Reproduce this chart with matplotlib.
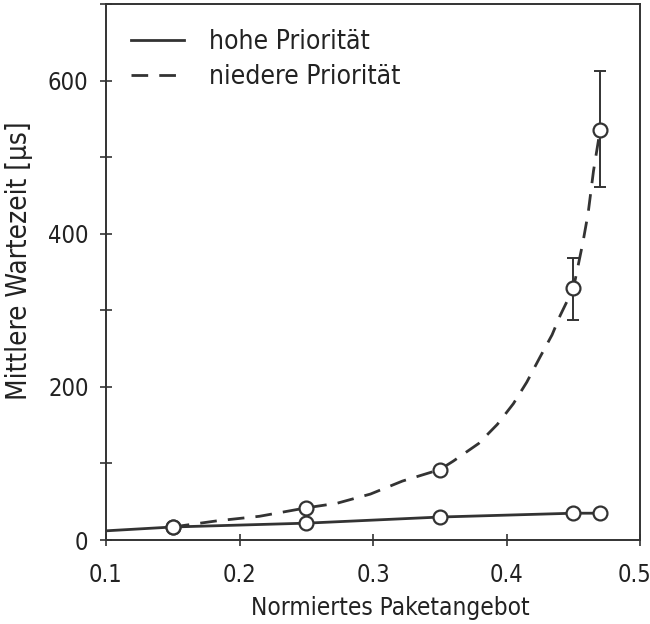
import matplotlib.pyplot as plt
import matplotlib.transforms as mtransforms
from matplotlib.ticker import MultipleLocator

plt.rcParams['font.family'] = ['DejaVu Sans']
plt.rcParams['font.stretch'] = 'condensed'

# Messpunkte (Normiertes Paketangebot)
x_pts = [0.15, 0.25, 0.35, 0.45, 0.47]
hohe = [17, 22, 30, 35, 35]
niedere = [17, 42, 92, 329, 536]

# Fehlerbalken niedere Prioritaet (untere / obere Grenze)
err_x = [0.45, 0.47]
err_mid = [329, 536]
err_lo = [287, 461]
err_hi = [368, 612]

# Verlauf der Kurven
hohe_x = [0.1, 0.15, 0.25, 0.35, 0.45, 0.47]
hohe_y = [12, 17, 22, 30, 35, 35]
nied_x = [0.15, 0.183, 0.215, 0.25, 0.273, 0.298, 0.322, 0.35, 0.36, 0.379, 0.393,
          0.405, 0.415, 0.425, 0.434, 0.44, 0.45, 0.457, 0.461, 0.465, 0.47]
nied_y = [17, 25, 31, 42, 48, 60, 77, 92, 103, 126, 151,
          178, 206, 239, 268, 293, 329, 388, 427, 482, 536]

col = '#333333'
fig = plt.figure(figsize=(6.5, 6.24), dpi=100)
ax = fig.add_axes([0.163, 0.1346, 0.822, 0.859])

ax.plot(hohe_x, hohe_y, '-', color=col, lw=2.0, label='hohe Priorität')
ax.plot(nied_x, nied_y, '--', color=col, lw=2.0, dashes=(6, 4), label='niedere Priorität')
ax.errorbar(err_x, err_mid,
            yerr=[[m - l for m, l in zip(err_mid, err_lo)], [h - m for h, m in zip(err_hi, err_mid)]],
            fmt='none', ecolor=col, elinewidth=1.4, capsize=4, capthick=1.4)
ax.plot(x_pts, hohe, 'o', ms=10, mfc='white', mec=col, mew=1.6)
ax.plot(x_pts, niedere, 'o', ms=10, mfc='white', mec=col, mew=1.6)

ax.set_xlim(0.1, 0.5)
ax.set_ylim(0, 700)
ax.set_xticks([0.1, 0.2, 0.3, 0.4, 0.5])
ax.set_xticklabels(['0.1', '0.2', '0.3', '0.4', '0.5'])
ax.yaxis.set_major_locator(MultipleLocator(200))
ax.yaxis.set_minor_locator(MultipleLocator(100))
ax.tick_params(which='both', direction='inout', length=9, width=1.2, color=col,
               labelsize=17, labelcolor='#222222', pad=8)
ax.tick_params(axis='x', pad=12)
last = ax.get_xticklabels()[-1]
last.set_transform(last.get_transform() + mtransforms.ScaledTranslation(-0.06, 0, fig.dpi_scale_trans))
for s in ax.spines.values():
    s.set_linewidth(1.4)
    s.set_color(col)

ax.set_xlabel('Normiertes Paketangebot', fontsize=17.5, color='#222222')
ax.set_ylabel('Mittlere Wartezeit [µs]', fontsize=20, color='#222222')
ax.xaxis.set_label_coords(0.532, -0.104)
ax.yaxis.set_label_coords(-0.137, 0.522)

ax.legend(loc='upper left', frameon=False, fontsize=19, handlelength=2.0,
          handletextpad=0.95, labelspacing=0.35, borderaxespad=0.55,
          labelcolor='#222222')

fig.savefig('out.png')
